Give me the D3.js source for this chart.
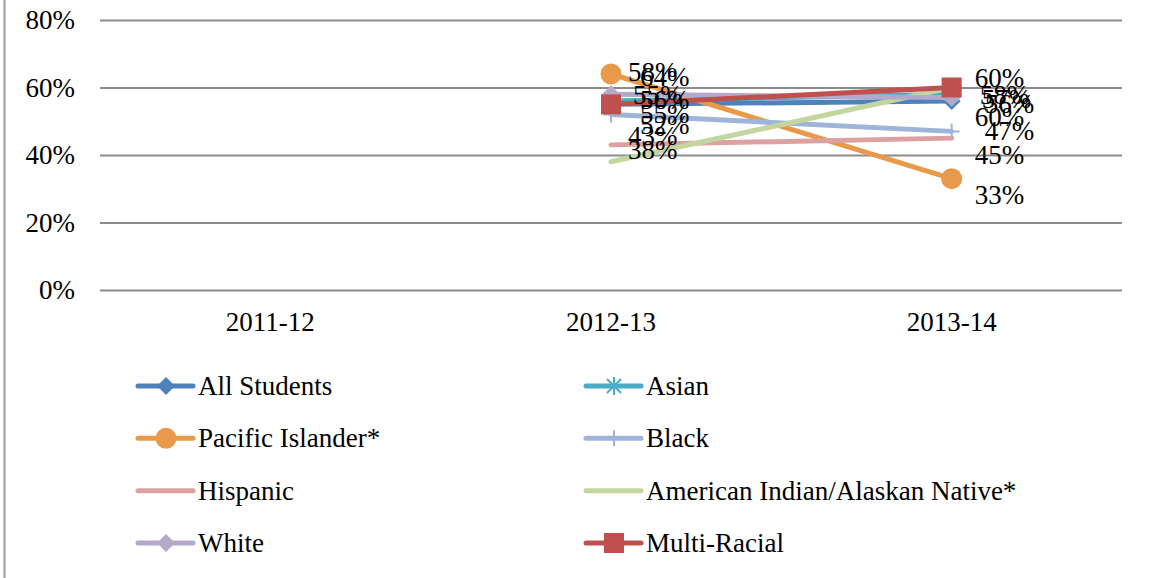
<!DOCTYPE html>
<html>
<head>
<meta charset="utf-8">
<script src="https://cdn.jsdelivr.net/npm/d3@7"></script>
<style>
  body { margin: 0; background: #fff; }
  svg { display: block; font-family: 'Liberation Serif', serif; }
</style>
</head>
<body>
<svg id="chart"></svg>
<script>
const years = ['2011-12', '2012-13', '2013-14'];
const yTicks = [0, 0.2, 0.4, 0.6, 0.8];

const allStudents = [null, 0.55, 0.56];
const asian = [null, 0.56, 0.58];
const pacificIslander = [null, 0.64, 0.33];
const black = [null, 0.52, 0.47];
const hispanic = [null, 0.43, 0.45];
const americanIndian = [null, 0.38, 0.60];
const white = [null, 0.58, 0.57];
const multiRacial = [null, 0.55, 0.60];

const seriesNames = ['All Students', 'Asian', 'Pacific Islander*', 'Black',
  'Hispanic', 'American Indian/Alaskan Native*', 'White', 'Multi-Racial'];
const seriesValues = [allStudents, asian, pacificIslander, black,
  hispanic, americanIndian, white, multiRacial];

// styling per series
const colors = ['#4f81bd', '#4bacc6', '#e8994a', '#9fb4d9',
  '#dca2a1', '#c3d69f', '#b4a8cb', '#c0504d'];
const markers = ['diamond', 'asterisk', 'circle', 'plus', 'none', 'none', 'diamond', 'square'];
// data label nudges [dx, dy] for each year (Excel placed them loosely)
const labelNudge = [
  [null, [22, -9], [33, 3]],
  [null, [29, -1], [28, 1]],
  [null, [29, 3], [23, 16]],
  [null, [29, 10], [33, 0]],
  [null, [17, -9], [23, 17]],
  [null, [17, -12], [23, 29]],
  [null, [17, -22], [30, 1]],
  [null, [29, 10], [23, -10]]
];

const width = 1149;
const height = 578;
const margin = { left: 100, right: 27, top: 20, bottom: 288 };

const svg = d3.select('#chart').attr('width', width).attr('height', height);

// outer border (left edge only visible)
svg.append('line')
  .attr('x1', 4.5).attr('x2', 4.5)
  .attr('y1', 0).attr('y2', height)
  .attr('stroke', '#9a9a9a').attr('stroke-width', 2);

const xScale = d3.scaleBand()
  .domain(years)
  .range([margin.left, width - margin.right]);

const yScale = d3.scaleLinear()
  .domain([0, 0.8])
  .range([height - margin.bottom, margin.top]);

const yAxis = d3.axisLeft(yScale)
  .tickValues(yTicks)
  .tickFormat(d3.format('.0%'))
  .tickSize(-(width - margin.left - margin.right))
  .tickPadding(25);

const gy = svg.append('g')
  .attr('transform', 'translate(' + margin.left + ',0)')
  .call(yAxis);
gy.select('.domain').remove();
gy.selectAll('line').attr('stroke', '#8c8c8c').attr('stroke-width', 2);
gy.selectAll('text').attr('fill', '#000').style('font-size', '27px')
  .style('font-family', "'Liberation Serif', serif");

const xAxis = d3.axisBottom(xScale).tickSize(0).tickPadding(22);
const gx = svg.append('g')
  .attr('transform', 'translate(0,' + (height - margin.bottom) + ')')
  .call(xAxis);
gx.select('.domain').remove();
gx.selectAll('text').attr('fill', '#000').style('font-size', '27px')
  .style('font-family', "'Liberation Serif', serif");

const cx = (year) => xScale(year) + xScale.bandwidth() / 2;

const line = d3.line()
  .defined((d) => d.v !== null)
  .x((d) => cx(d.year))
  .y((d) => yScale(d.v));

const drawMarker = (g, type, color, x, y) => {
  if (type === 'diamond') {
    const r = 9;
    g.append('path')
      .attr('d', 'M' + x + ',' + (y - r) + 'L' + (x + r) + ',' + y + 'L' + x + ',' + (y + r) + 'L' + (x - r) + ',' + y + 'Z')
      .attr('fill', color);
  } else if (type === 'circle') {
    g.append('circle').attr('cx', x).attr('cy', y).attr('r', 10.5).attr('fill', color);
  } else if (type === 'square') {
    g.append('rect').attr('x', x - 10).attr('y', y - 10)
      .attr('width', 20).attr('height', 20).attr('fill', color);
  } else if (type === 'plus') {
    g.append('path')
      .attr('d', 'M' + (x - 8) + ',' + y + 'H' + (x + 8) + 'M' + x + ',' + (y - 8) + 'V' + (y + 8))
      .attr('stroke', color).attr('stroke-width', 2);
  } else if (type === 'asterisk') {
    const r = 7;
    g.append('path')
      .attr('d', 'M' + (x - r) + ',' + (y - r) + 'L' + (x + r) + ',' + (y + r) +
        'M' + (x - r) + ',' + (y + r) + 'L' + (x + r) + ',' + (y - r) +
        'M' + x + ',' + (y - r - 2) + 'V' + (y + r + 2))
      .attr('stroke', color).attr('stroke-width', 2);
  }
};

// lines + markers
seriesValues.forEach((vals, i) => {
  const pts = vals.map((v, j) => ({ year: years[j], v: v }));
  const g = svg.append('g');
  g.append('path')
    .datum(pts)
    .attr('d', line)
    .attr('fill', 'none')
    .attr('stroke', colors[i])
    .attr('stroke-width', 5)
    .attr('stroke-linecap', 'round')
    .attr('stroke-linejoin', 'round');
  pts.filter((p) => p.v !== null).forEach((p) => {
    drawMarker(g, markers[i], colors[i], cx(p.year), yScale(p.v));
  });
});

// data labels
seriesValues.forEach((vals, i) => {
  vals.forEach((v, j) => {
    if (v === null) return;
    const n = labelNudge[i][j];
    svg.append('text')
      .attr('x', cx(years[j]) + n[0])
      .attr('y', yScale(v) + n[1])
      .attr('dominant-baseline', 'central')
      .style('font-size', '27px')
      .attr('fill', '#000')
      .text(d3.format('.0%')(v));
  });
});

// legend, two columns
const legendX = [138, 586];
const legendY = d3.scalePoint().domain([0, 1, 2, 3]).range([386, 543]);

seriesNames.forEach((name, i) => {
  const col = i % 2;
  const row = Math.floor(i / 2);
  const x0 = legendX[col];
  const y0 = legendY(row);
  const g = svg.append('g');
  g.append('line')
    .attr('x1', x0).attr('x2', x0 + 55)
    .attr('y1', y0).attr('y2', y0)
    .attr('stroke', colors[i]).attr('stroke-width', 5)
    .attr('stroke-linecap', 'round');
  drawMarker(g, markers[i], colors[i], x0 + 28, y0);
  g.append('text')
    .attr('x', x0 + 60)
    .attr('y', y0)
    .attr('dominant-baseline', 'central')
    .style('font-size', '27px')
    .attr('fill', '#000')
    .text(name);
});
</script>
</body>
</html>
